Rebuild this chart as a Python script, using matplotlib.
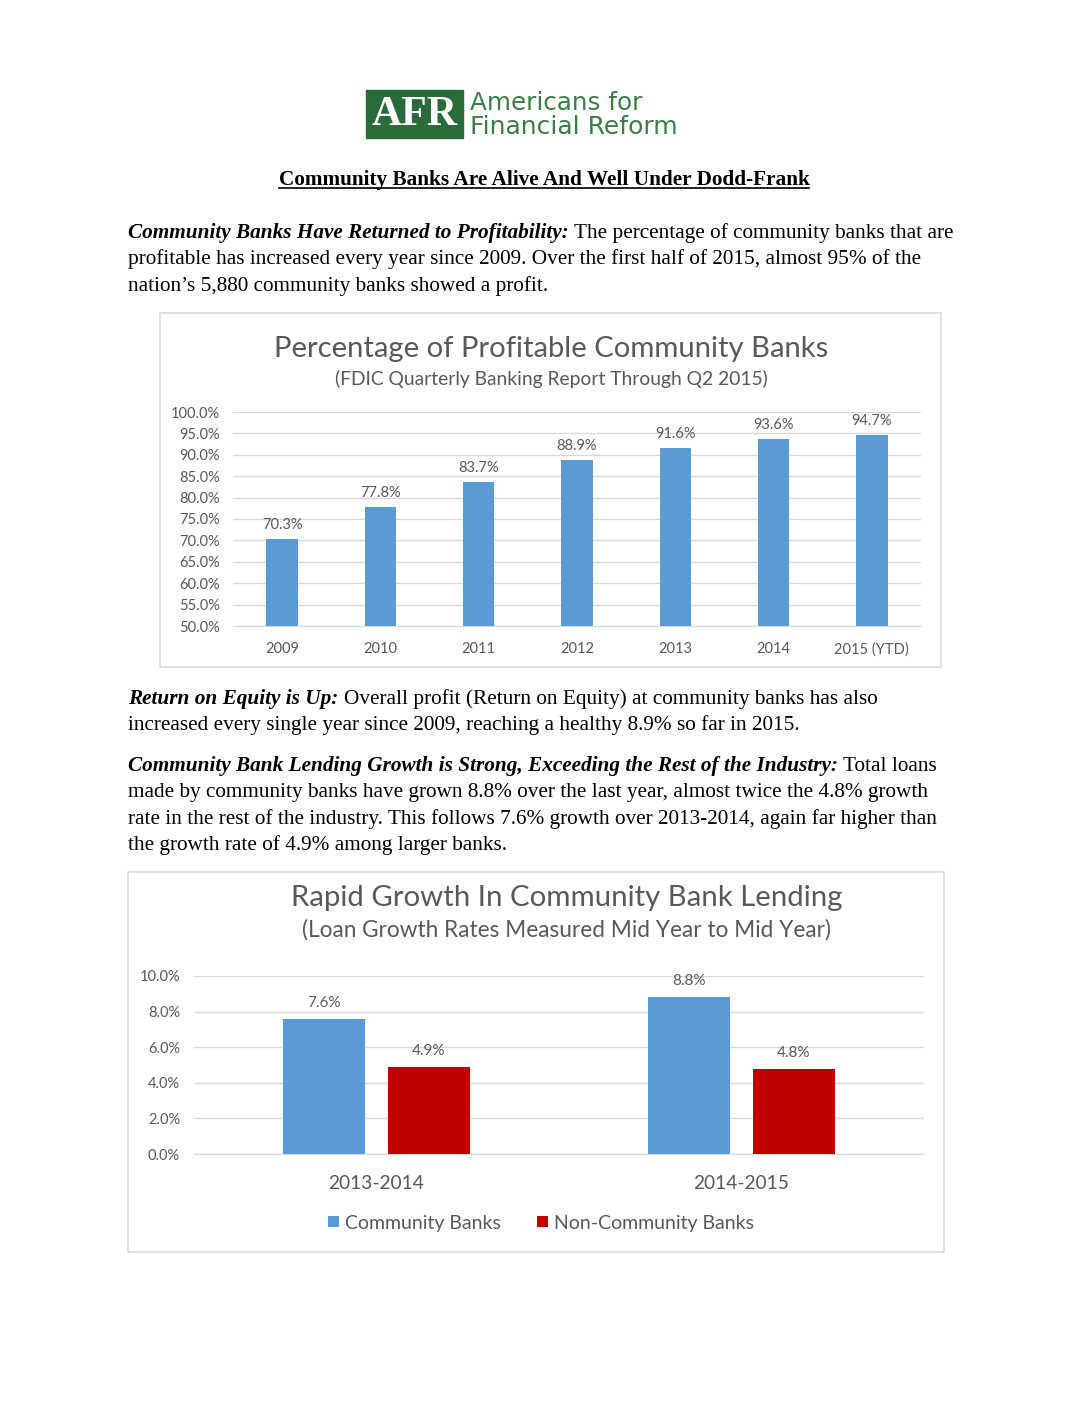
import matplotlib
matplotlib.use("Agg")
import matplotlib.pyplot as plt
from matplotlib.patches import Rectangle

W, H = 1088, 1408

# chart 1 data
years = ["2009", "2010", "2011", "2012", "2013", "2014", "2015 (YTD)"]
profitable = [70.3, 77.8, 83.7, 88.9, 91.6, 93.6, 94.7]
yticks1 = [50, 55, 60, 65, 70, 75, 80, 85, 90, 95, 100]

# chart 2 data
periods = ["2013-2014", "2014-2015"]
community = [7.6, 8.8]
non_community = [4.9, 4.8]
yticks2 = [0, 2, 4, 6, 8, 10]

BLUE = "#5B9BD5"
RED = "#C00000"
GRID = "#D9D9D9"
GRAY = "#595959"
GREEN = "#2A6B3A"
SANS = "Lato"
SERIF = "Liberation Serif"
BODY = 15.35

fig = plt.figure(figsize=(W / 100, H / 100), dpi=100)
fig.patch.set_facecolor("white")
ren = fig.canvas.get_renderer()

# page overlay in pixel coords
ax0 = fig.add_axes([0, 0, 1, 1])
ax0.set_xlim(0, W)
ax0.set_ylim(H, 0)
ax0.axis("off")


def px_axes(x0, y0, x1, y1):
    return fig.add_axes([x0 / W, 1 - y1 / H, (x1 - x0) / W, (y1 - y0) / H])


def fit(x, y, s, width, **kw):
    t = ax0.text(x, y, s, fontsize=10, **kw)
    w = t.get_window_extent(ren).width
    t.set_fontsize(10 * width / w)
    return t


def rich(x, y, parts):
    for s, bold in parts:
        if bold:
            t = ax0.text(x, y, s, fontsize=BODY, family=SERIF, weight="bold",
                         style="italic", va="baseline")
        else:
            t = ax0.text(x, y, s, fontsize=BODY, family=SERIF, va="baseline")
        x += t.get_window_extent(ren).width + 5.3


# logo
ax0.add_patch(Rectangle((366, 90), 97, 48, color=GREEN, zorder=2))
fit(414.5, 115, "AFR", 86, family=SERIF, weight="bold", color="white",
    ha="center", va="center", zorder=3)
fit(470, 103, "Americans for", 172, family="DejaVu Sans", color="#3B7F46",
    va="center")
fit(470, 127, "Financial Reform", 208, family="DejaVu Sans", color="#3B7F46",
    va="center")

# page title
t = ax0.text(544, 185, "Community Banks Are Alive And Well Under Dodd-Frank",
             fontsize=BODY, family=SERIF, weight="bold", ha="center",
             va="baseline")
tw = t.get_window_extent(ren).width
ax0.plot([544 - tw / 2, 544 + tw / 2], [188, 188], color="black", lw=1.2)

# paragraph 1
rich(128, 238, [("Community Banks Have Returned to Profitability:", True),
                ("The percentage of community banks that are", False)])
rich(128, 264, [("profitable has increased every year since 2009. Over the first half of 2015, almost 95% of the", False)])
rich(128, 291, [("nation\u2019s 5,880 community banks showed a profit.", False)])

# paragraph 2
rich(128, 704, [("Return on Equity is Up:", True),
                ("Overall profit (Return on Equity) at community banks has also", False)])
rich(128, 730, [("increased every single year since 2009, reaching a healthy 8.9% so far in 2015.", False)])

# paragraph 3
rich(128, 771, [("Community Bank Lending Growth is Strong, Exceeding the Rest of the Industry:", True),
                ("Total loans", False)])
rich(128, 797, [("made by community banks have grown 8.8% over the last year, almost twice the 4.8% growth", False)])
rich(128, 824, [("rate in the rest of the industry. This follows 7.6% growth over 2013-2014, again far higher than", False)])
rich(128, 850, [("the growth rate of 4.9% among larger banks.", False)])

# chart frames
ax0.add_patch(Rectangle((160, 313), 781, 354, fill=False, ec=GRID, lw=1.2))
ax0.add_patch(Rectangle((128, 872), 816, 380, fill=False, ec=GRID, lw=1.2))

# chart 1 titles
fit(551, 349, "Percentage of Profitable Community Banks", 554, family=SANS,
    color=GRAY, ha="center", va="center")
fit(551, 379, "(FDIC Quarterly Banking Report Through Q2 2015)", 433,
    family=SANS, color=GRAY, ha="center", va="center")

# chart 1
ax1 = px_axes(233, 412, 921, 626)
x1 = range(len(years))
b1 = ax1.bar(x1, profitable, width=0.32, color=BLUE, zorder=3)
ax1.set_xlim(-0.5, len(years) - 0.5)
ax1.set_ylim(50, 100)
ax1.set_yticks(yticks1)
ax1.set_yticklabels([f"{v:.1f}%" for v in yticks1])
ax1.set_xticks(list(x1))
ax1.set_xticklabels(years)
ax1.grid(axis="y", color=GRID, lw=1.0, zorder=0)
for s in ["top", "right", "left"]:
    ax1.spines[s].set_visible(False)
ax1.spines["bottom"].set_color(GRID)
ax1.tick_params(length=0, labelsize=10.5, labelcolor=GRAY, pad=9.5)
ax1.tick_params(axis="x", pad=11.5)
for lab in ax1.get_xticklabels() + ax1.get_yticklabels():
    lab.set_family(SANS)
for rect, v in zip(b1, profitable):
    ax1.annotate(f"{v:.1f}%", (rect.get_x() + rect.get_width() / 2, v),
                 xytext=(0, 7), textcoords="offset pixels", ha="center",
                 va="bottom", fontsize=10.5, color=GRAY, family=SANS)
ax1.set_facecolor("none")

# chart 2 titles
fit(567, 898, "Rapid Growth In Community Bank Lending", 550, family=SANS,
    color=GRAY, ha="center", va="center")
fit(567, 930, "(Loan Growth Rates Measured Mid Year to Mid Year)", 529,
    family=SANS, color=GRAY, ha="center", va="center")

# chart 2
ax2 = px_axes(194, 976, 924, 1154)
x2 = range(len(periods))
bw = 0.225
off = 0.1435
bc = ax2.bar([i - off for i in x2], community, width=bw, color=BLUE,
             zorder=3, label="Community Banks")
bn = ax2.bar([i + off for i in x2], non_community, width=bw, color=RED,
             zorder=3, label="Non-Community Banks")
ax2.set_xlim(-0.5, len(periods) - 0.5)
ax2.set_ylim(0, 10)
ax2.set_yticks(yticks2)
ax2.set_yticklabels([f"{v:.1f}%" for v in yticks2])
ax2.set_xticks(list(x2))
ax2.set_xticklabels(periods)
ax2.grid(axis="y", color=GRID, lw=1.0, zorder=0)
for s in ["top", "right", "left"]:
    ax2.spines[s].set_visible(False)
ax2.spines["bottom"].set_color(GRID)
ax2.tick_params(axis="y", length=0, labelsize=10.5, labelcolor=GRAY, pad=10)
ax2.tick_params(axis="x", length=0, labelsize=13.8, labelcolor=GRAY, pad=15)
for lab in ax2.get_xticklabels() + ax2.get_yticklabels():
    lab.set_family(SANS)
for bars in (bc, bn):
    for rect in bars:
        v = rect.get_height()
        ax2.annotate(f"{v:.1f}%", (rect.get_x() + rect.get_width() / 2, v),
                     xytext=(0, 9), textcoords="offset pixels", ha="center",
                     va="bottom", fontsize=11, color=GRAY, family=SANS)
ax2.set_facecolor("none")
ax2.legend(loc="center", bbox_to_anchor=(541 / W, 1 - 1223 / H),
           bbox_transform=fig.transFigure, ncol=2, frameon=False,
           handlelength=0.55, handleheight=0.55, handletextpad=0.3,
           columnspacing=1.9, prop={"family": SANS, "size": 14.0},
           labelcolor=GRAY)

plt.savefig("out.png", dpi=100)
